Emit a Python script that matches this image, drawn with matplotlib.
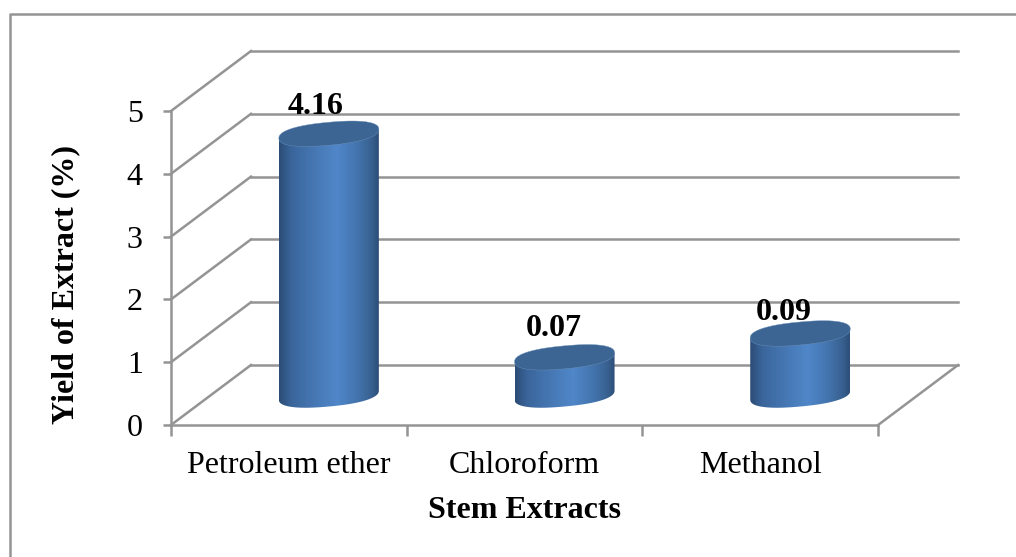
#!/usr/bin/env python3
# -*- coding: utf-8 -*-
import numpy as np
import matplotlib
matplotlib.use('Agg')
from matplotlib import pyplot as plt
from matplotlib.colors import LinearSegmentedColormap
from matplotlib.lines import Line2D
from matplotlib.patches import Polygon

categories = ['Petroleum ether', 'Chloroform', 'Methanol']
# heights as drawn in the picture, the printed labels do not agree with them
bar_heights = [4.16, 0.60, 0.98]
bar_labels = ['4.16', '0.07', '0.09']
y_ticks = [0, 1, 2, 3, 4, 5]

W, H = 1016, 557
X0, Y0 = 171, 425      # front corner of the floor, pixels
PX_X = 235.7           # pixels per category
PX_Y = 62.8            # pixels per percent
DEPTH_X = 80 / PX_X    # depth of the 3d box in data units
DEPTH_Y = 60 / PX_Y
GREY = '#949494'
LW = 1.8
FONT = 'Liberation Serif'

plt.rcParams['font.family'] = FONT

fig = plt.figure(figsize=(W / 100, H / 100), dpi=100)
ax = fig.add_axes([X0 / W, (H - Y0) / H, 788 / W, 375 / H])
ax.set_xlim(0, 788 / PX_X)
ax.set_ylim(0, 375 / PX_Y)
ax.patch.set_visible(False)

# outer frame of the chart
fig.add_artist(Line2D([10 / W, 10 / W, 1], [0, 1 - 14 / H, 1 - 14 / H],
                      color=GREY, lw=LW))

# spines and ticks
for side in ['top', 'right']:
    ax.spines[side].set_visible(False)
ax.spines['left'].set_bounds(0, 5)
ax.spines['bottom'].set_bounds(0, len(categories))
for side in ['left', 'bottom']:
    ax.spines[side].set_color(GREY)
    ax.spines[side].set_linewidth(LW)

ax.set_yticks(y_ticks)
ax.set_xticks(np.arange(len(categories) + 1))
ax.set_xticklabels([])
ax.set_xticks(np.arange(len(categories)) + 0.5, minor=True)
ax.set_xticklabels(categories, minor=True)
ax.tick_params(axis='y', length=6, width=LW, color=GREY, labelsize=23, pad=14.3)
ax.tick_params(axis='x', which='major', length=8, width=LW, color=GREY)
ax.tick_params(axis='x', which='minor', length=0, labelsize=23, pad=19)

ax.set_xlabel('Stem Extracts', fontsize=23, fontweight='bold', va='center')
ax.xaxis.set_label_coords(353 / 788, -86 / 375)
ax.set_ylabel('Yield of Extract (%)', fontsize=23, fontweight='bold', va='center')
ax.yaxis.set_label_coords(-105 / 788, 140 / 375)

# back wall gridlines, side wall and floor diagonals
n = len(categories)
for v in y_ticks:
    ax.plot([DEPTH_X, n + DEPTH_X], [v + DEPTH_Y, v + DEPTH_Y],
            color=GREY, lw=LW, clip_on=False, zorder=1)
    ax.plot([0, DEPTH_X], [v, v + DEPTH_Y],
            color=GREY, lw=LW, clip_on=False, zorder=1)
ax.plot([n, n + DEPTH_X], [0, DEPTH_Y], color=GREY, lw=LW, clip_on=False, zorder=1)

# cylinders
shade = LinearSegmentedColormap.from_list('cyl', [
    (0.00, '#2b4c75'), (0.12, '#3a659b'), (0.35, '#4677b3'),
    (0.58, '#5087c9'), (0.80, '#4272ab'), (0.93, '#38608f'), (1.00, '#2c4e78')])
RX = 50 / PX_X
RY = 11.5 / PX_Y
TILT = 4.5 / PX_Y
t = np.linspace(0, 2 * np.pi, 181)
x_off = [-13, -11, -16]
y_off = [27.5, 29, 20.5]


def ring(a):
    # slightly squared ellipse, tilted up to the right
    c = np.sign(np.cos(a)) * np.abs(np.cos(a)) ** 0.85
    s = np.sign(np.sin(a)) * np.abs(np.sin(a)) ** 0.85
    return RX * c, RY * s + TILT * c


for i, h in enumerate(bar_heights):
    cx = i + 0.5 + DEPTH_X / 2
    cy = DEPTH_Y / 2
    ex, ey = ring(t)

    # side wall = top ellipse swept down to the base ellipse
    lx, ly = ring(t[(t >= np.pi) & (t <= 2 * np.pi)])
    side = np.column_stack([
        np.r_[cx + lx, cx + RX, cx - RX],
        np.r_[cy + ly, cy + h + TILT, cy + h - TILT]])
    poly = Polygon(side, closed=True, fc='none', ec='none', transform=ax.transData)
    ax.add_patch(poly)
    im = ax.imshow(np.linspace(0, 1, 256).reshape(1, -1), cmap=shade, aspect='auto',
                   extent=[cx - RX, cx + RX, cy - 0.5, cy + h + 0.5],
                   zorder=3, interpolation='bilinear')
    im.set_clip_path(poly)
    ax.add_patch(Polygon(np.column_stack([cx + ex, cy + h + ey]), closed=True,
                         fc='#3c6593', ec='#6d92bb', lw=0.3, zorder=4))
    ax.annotate(bar_labels[i], (cx, cy + h), xytext=(x_off[i] * 0.72, y_off[i] * 0.72),
                textcoords='offset points', ha='center', va='center',
                fontsize=23, fontweight='bold', zorder=5, annotation_clip=False)

ax.set_xlim(0, 788 / PX_X)
ax.set_ylim(0, 375 / PX_Y)

fig.savefig('out.png', dpi=100)
